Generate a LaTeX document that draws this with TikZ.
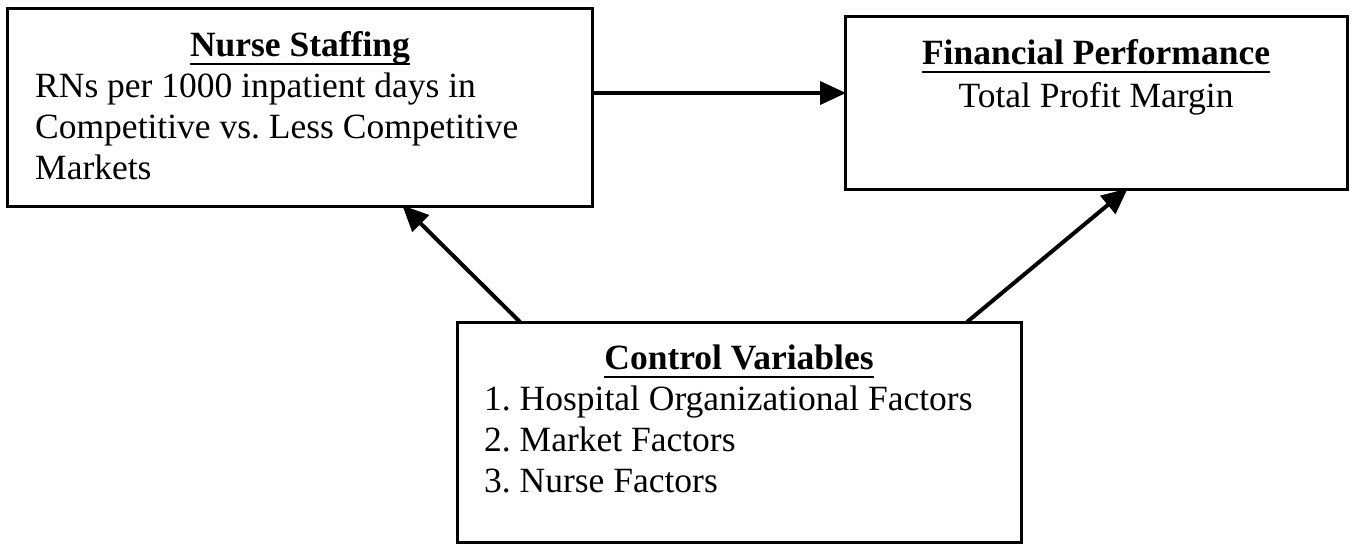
\documentclass[tikz,border=0pt]{standalone}
\usepackage{fontspec}
\setmainfont{Liberation Serif}
\usetikzlibrary{arrows.meta}
\frenchspacing
\newsavebox\ulbox
\newcommand\myul[1]{\sbox\ulbox{#1}\rlap{\usebox\ulbox}\rule[-8.5pt]{\wd\ulbox}{1.8pt}}
\tikzset{
  box/.style={draw, line width=3pt, inner sep=0pt, outer sep=0pt},
  arr/.style={line width=4pt, -{Triangle[length=26pt,width=23pt]}, shorten >=-1pt},
  txt/.style={inner sep=0pt, anchor=base west, font=\fontsize{35.5}{41}\selectfont},
  head/.style={inner sep=0pt, anchor=base, font=\fontsize{35.5}{41}\selectfont\bfseries}
}
\begin{document}
\begin{tikzpicture}[x=1pt,y=-1pt]
\useasboundingbox (0,0) rectangle (1357,544);
% boxes
\node[box, minimum width=585pt, minimum height=198pt] (ns) at (299.5,107) {};
\node[box, minimum width=502pt, minimum height=173pt] (fp) at (1096,102.5) {};
\node[box, minimum width=564pt, minimum height=220pt] (cv) at (739,432) {};
% texts
\node[head] (nsh) at (300,56) {\myul{Nurse Staffing}};
\node[txt] (ns1) at (35,97) {RNs per 1000 inpatient days in};
\node[txt] (ns2) at (35,138) {Competitive vs. Less Competitive};
\node[txt] (ns3) at (35,179) {Markets};
\node[head] (fph) at (1096,64) {\myul{Financial Performance}};
\node[head, font=\fontsize{35.5}{41}\selectfont] (fp1) at (1096,107) {Total Profit Margin};
\node[head] (cvh) at (739,369) {\myul{Control Variables}};
\node[txt] (cv1) at (484,410) {1. Hospital Organizational Factors};
\node[txt] (cv2) at (484,451) {2. Market Factors};
\node[txt] (cv3) at (484,492) {3. Nurse Factors};
% connectors
\draw[arr] ([yshift=14pt]ns.east) -- ([yshift=14pt]ns.east -| fp.west);
\draw[arr] ([xshift=-219pt]cv.north) -- ([xshift=103.5pt]ns.south);
\draw[arr] ([xshift=228pt]cv.north) -- ([xshift=31pt]fp.south);
\end{tikzpicture}
\end{document}
